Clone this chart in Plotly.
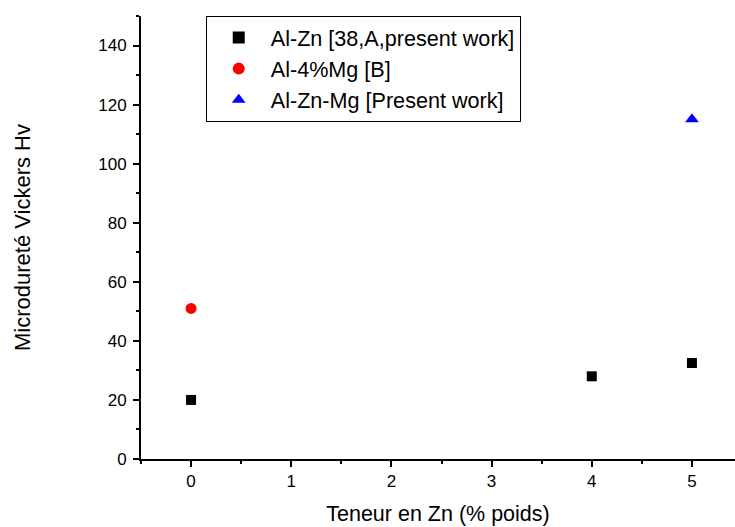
import plotly.graph_objects as go

alzn_x = [0, 4, 5]
alzn_y = [20, 28, 32.5]
almg_x = [0]
almg_y = [51]
alznmg_x = [5]
alznmg_y = [115]

names = ["Al-Zn [38,A,present work]", "Al-4%Mg [B]", "Al-Zn-Mg [Present work]"]

font = "Arial, Liberation Sans, sans-serif"

fig = go.Figure()
fig.add_trace(go.Scatter(x=alzn_x, y=alzn_y, mode="markers", name=names[0],
                         marker=dict(symbol="square", size=10, color="black")))
fig.add_trace(go.Scatter(x=almg_x, y=almg_y, mode="markers", name=names[1],
                         marker=dict(symbol="circle", size=11, color="red")))
fig.add_trace(go.Scatter(x=alznmg_x, y=alznmg_y, mode="markers", name=names[2],
                         marker=dict(symbol="triangle-up", size=12, color="blue")))

fig.update_layout(
    width=735, height=527,
    margin=dict(l=141, r=0, t=16, b=68),
    paper_bgcolor="white", plot_bgcolor="white",
    font=dict(family=font, size=17, color="black"),
    showlegend=True,
    legend=dict(x=0.109, y=1.0, xanchor="left", yanchor="top",
                bordercolor="black", borderwidth=1, bgcolor="white",
                font=dict(size=21.6, family=font), tracegroupgap=0,
                itemsizing="constant", itemwidth=54),
)
fig.update_xaxes(range=[-0.5, 5.43], showgrid=False, zeroline=False,
                 showline=True, linecolor="black", linewidth=2,
                 ticks="outside", ticklen=6, tickwidth=1.5, tickcolor="black",
                 tickvals=[0, 1, 2, 3, 4, 5],
                 minor=dict(dtick=0.5, tick0=0, ticks="outside", ticklen=3, tickwidth=1.5, tickcolor="black"),
                 tickfont=dict(size=17),
                 title=dict(text="Teneur en Zn (% poids)", font=dict(size=21.5), standoff=16))
fig.update_yaxes(range=[0, 150], showgrid=False, zeroline=False,
                 showline=True, linecolor="black", linewidth=2,
                 ticks="outside", ticklen=6, tickwidth=1.5, tickcolor="black",
                 ticklabelstandoff=3,
                 tickvals=[0, 20, 40, 60, 80, 100, 120, 140],
                 minor=dict(dtick=10, tick0=0, ticks="outside", ticklen=3, tickwidth=1.5, tickcolor="black"),
                 tickfont=dict(size=17),
                 title=dict(text="Microdureté Vickers Hv", font=dict(size=22), standoff=62))

fig.write_html("out.html")
